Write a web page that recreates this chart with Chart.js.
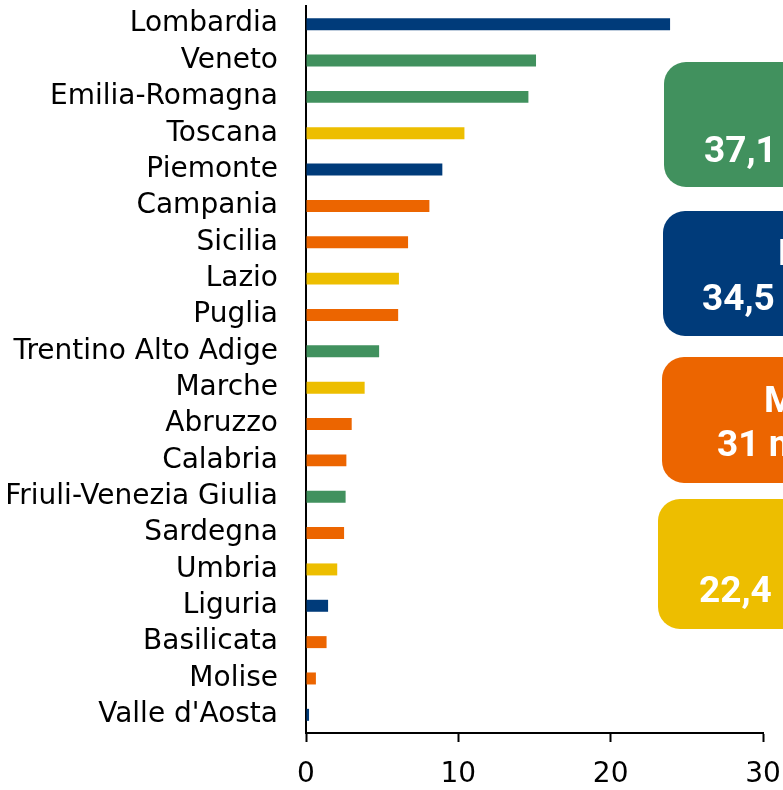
<!DOCTYPE html>
<html><head><meta charset="utf-8">
<script src="https://cdn.jsdelivr.net/npm/chart.js@4"></script>
<style>html,body{margin:0;padding:0;background:#fff;overflow:hidden}#wrap{width:783px;height:790px;position:relative}</style>
</head><body><div id="wrap"><canvas id="c"></canvas></div>
<script>
const regions = ['Lombardia','Veneto','Emilia-Romagna','Toscana','Piemonte','Campania','Sicilia','Lazio','Puglia','Trentino Alto Adige','Marche','Abruzzo','Calabria','Friuli-Venezia Giulia','Sardegna','Umbria','Liguria','Basilicata','Molise',"Valle d'Aosta"];
const values = [23.9,15.1,14.6,10.4,8.95,8.1,6.7,6.1,6.05,4.8,3.85,3.0,2.65,2.6,2.5,2.05,1.45,1.35,0.65,0.2];
const regionArea = ['NO','NE','NE','C','NO','M','M','C','M','NE','C','M','M','NE','M','C','NO','M','M','NO'];
const areaKeys = ['NE','NO','M','C'];
const areaNames = ['Nord-Est','Nord-Ovest','Mezzogiorno','Centro'];
const areaTotals = ['37,1 mld','34,5 mld','31 mld','22,4 mld'];
const xTicks = [0,10,20,30];

const areaColors = {NO:'#003B7A', NE:'#41915E', C:'#EDBE00', M:'#EC6500'};
// box layout (pixels)
const boxLayout = {
  NE:{x:664,y:62,h:125,tx:800,vx:704,tb:117,vb:162},
  NO:{x:663,y:211,h:125,tx:778,vx:702,tb:265,vb:310},
  M:{x:662,y:357,h:126,tx:764,vx:717,tb:412,vb:456},
  C:{x:658,y:499,h:130,tx:800,vx:699,tb:557,vb:602}
};

const boxesPlugin = {
  id:'boxes',
  afterDraw(chart){
    const ctx = chart.ctx;
    ctx.save();
    areaKeys.forEach((k,i)=>{
      const b = boxLayout[k];
      ctx.fillStyle = areaColors[k];
      ctx.beginPath();
      ctx.roundRect(b.x, b.y, 300, b.h, 22);
      ctx.fill();
      ctx.fillStyle = '#fff';
      ctx.font = 'bold 37px Roboto';
      ctx.textAlign = 'left';
      ctx.textBaseline = 'alphabetic';
      ctx.fillText(areaNames[i], b.tx, b.tb);
      ctx.fillText(areaTotals[i], b.vx, b.vb);
    });
    ctx.restore();
  }
};

new Chart(document.getElementById('c'), {
  type:'bar',
  data:{
    labels: regions,
    datasets:[{
      data: values,
      backgroundColor: regionArea.map(a=>areaColors[a]),
      borderWidth:0,
      barPercentage:0.33,
      categoryPercentage:1.0
    }]
  },
  options:{
    indexAxis:'y',
    responsive:true,
    maintainAspectRatio:false,
    animation:false,
    layout:{padding:{top:6,right:20,bottom:0,left:0}},
    plugins:{legend:{display:false},tooltip:{enabled:false}},
    scales:{
      x:{
        min:0,max:30,
        afterBuildTicks(s){ s.ticks = xTicks.map(v=>({value:v})); },
        ticks:{color:'#000',font:{family:'DejaVu Sans',size:28},padding:16,maxRotation:0},
        grid:{drawOnChartArea:false,drawTicks:true,tickLength:9,tickWidth:2,tickColor:'#000'},
        border:{color:'#000',width:2},
        afterFit(s){ s.height = 57; s.paddingLeft = 0; s.paddingRight = 0; }
      },
      y:{
        ticks:{color:'#000',font:{family:'DejaVu Sans',size:28},padding:28,autoSkip:false},
        grid:{drawOnChartArea:false,drawTicks:false},
        border:{color:'#000',width:2},
        afterFit(s){ s.width = 306; s.paddingTop = 0; s.paddingBottom = 0; }
      }
    }
  },
  plugins:[boxesPlugin]
});
</script>
</body></html>
